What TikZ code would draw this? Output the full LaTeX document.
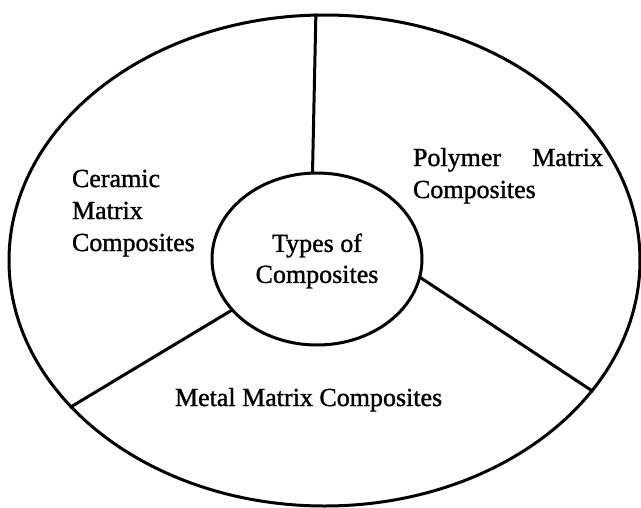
\documentclass[tikz,border=0pt]{standalone}
\usepackage{fontspec}
\setmainfont[FakeBold=1.2]{Liberation Serif}
\usetikzlibrary{shapes.geometric}
\begin{document}
\begin{tikzpicture}[x=1pt,y=-1pt,
  ring/.style={draw=black, line width=3pt, ellipse, inner sep=0pt},
  divider/.style={draw=black, line width=3pt},
  lbl/.style={inner sep=0pt, outer sep=0pt, font=\fontsize{26}{32}\selectfont}]
\useasboundingbox[fill=white] (0,0) rectangle (641,507);
\node[ring, minimum width=631pt, minimum height=491pt] (outer) at (324.5,260.5) {};
\node[ring, minimum width=210pt, minimum height=172pt, lbl, align=center,
      font=\fontsize{26}{31}\selectfont] (hub) at (317,259) {};
\node[lbl, align=center, font=\fontsize{26}{31}\selectfont] (hubtext) at (317,261) {Types of\\Composites};
\draw[divider] (hub.93) -- (outer.92.4);
\draw[divider] (hub.211) -- (outer.210.3);
\draw[divider] (hub.350) -- (outer.334.8);
\node[lbl, anchor=base west, align=left] (ceramic) at (72,251) {Ceramic\\Matrix\\Composites};
\node[lbl, anchor=base west, align=left, text width=190pt] (polymer) at (413,166) {Polymer\hfill Matrix\\Composites};
\node[lbl, anchor=base west] (metal) at (175,406) {Metal Matrix Composites};
\end{tikzpicture}
\end{document}
